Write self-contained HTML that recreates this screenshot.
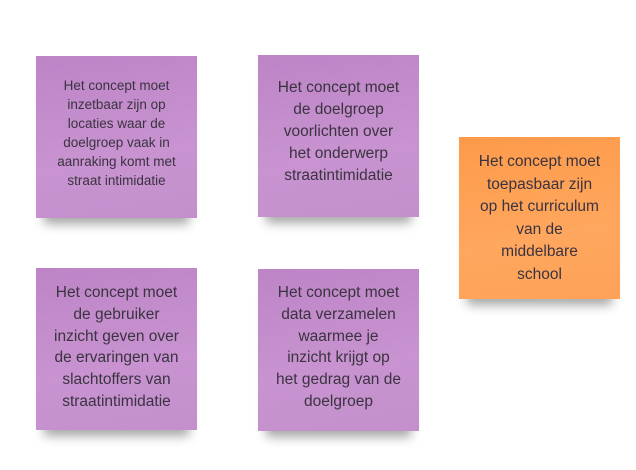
<!DOCTYPE html>
<html><head><meta charset="utf-8"><style>
body{margin:0;width:636px;height:470px;background:#fff;position:relative;overflow:hidden;font-family:"Liberation Sans",sans-serif;color:#3a3340}
.n{position:absolute;width:161px;height:162px;box-sizing:border-box;background:linear-gradient(170deg,#bd84c6 0%,#c893d0 60%,#c390cc 100%);box-shadow:0 14px 10px -8px rgba(0,0,0,0.35)}
.o{background:linear-gradient(170deg,#fd9a49 0%,#ffa75e 60%,#fda258 100%)}
.t{position:absolute;left:4px;right:4px;text-align:center}
</style></head><body>
<div class="n" style="left:36px;top:56px"><div class="t" style="top:20px;font-size:13.5px;line-height:19px">Het concept moet<br>inzetbaar zijn op<br>locaties waar de<br>doelgroep vaak in<br>aanraking komt met<br>straat intimidatie</div></div>
<div class="n" style="left:258px;top:55px"><div class="t" style="top:22px;font-size:15.5px;line-height:22px">Het concept moet<br>de doelgroep<br>voorlichten over<br>het onderwerp<br>straatintimidatie</div></div>
<div class="n o" style="left:459px;top:137px"><div class="t" style="top:14px;font-size:15.5px;line-height:22.5px">Het concept moet<br>toepasbaar zijn<br>op het curriculum<br>van de<br>middelbare<br>school</div></div>
<div class="n" style="left:36px;top:268px"><div class="t" style="top:14px;font-size:15.5px;line-height:21.8px">Het concept moet<br>de gebruiker<br>inzicht geven over<br>de ervaringen van<br>slachtoffers van<br>straatintimidatie</div></div>
<div class="n" style="left:258px;top:269px"><div class="t" style="top:13px;font-size:15.5px;line-height:21.8px">Het concept moet<br>data verzamelen<br>waarmee je<br>inzicht krijgt op<br>het gedrag van de<br>doelgroep</div></div>
</body></html>
